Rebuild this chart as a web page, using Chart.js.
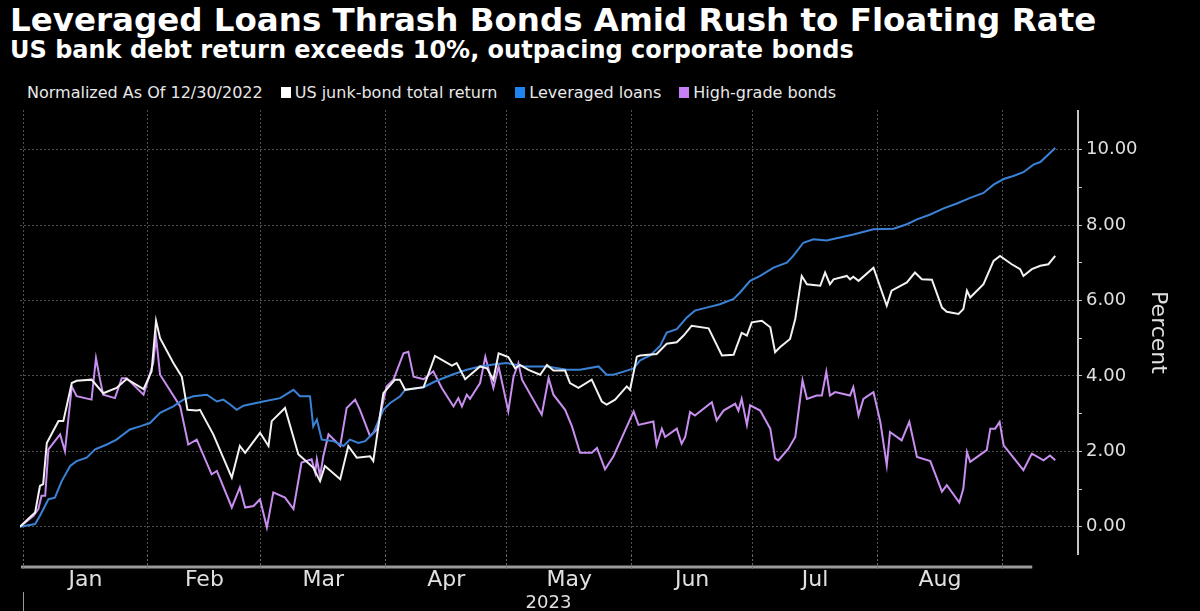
<!DOCTYPE html>
<html>
<head>
<meta charset="utf-8">
<script src="https://cdn.jsdelivr.net/npm/chart.js@4.4.0/dist/chart.umd.min.js"></script>
<style>
  html, body { margin: 0; padding: 0; background: #000; }
  body { width: 1200px; height: 611px; position: relative; overflow: hidden; font-family: 'DejaVu Sans', sans-serif; color: #fff; }
  #title { position: absolute; left: 10px; top: 1px; font-size: 32.5px; font-weight: bold; white-space: nowrap; }
  #subtitle { position: absolute; left: 10px; top: 36px; font-size: 24px; font-weight: bold; white-space: nowrap; }
  #legend { position: absolute; left: 27px; top: 83px; font-size: 16px; color: #e8e8e8; white-space: nowrap; display: flex; align-items: center; }
  .item { display: inline-flex; align-items: center; margin-left: 18px; }
  .sw { display: inline-block; width: 10px; height: 11px; margin-right: 4px; }
  canvas { position: absolute; left: 0; top: 0; }
</style>
</head>
<body>
<div id="title">Leveraged Loans Thrash Bonds Amid Rush to Floating Rate</div>
<div id="subtitle">US bank debt return exceeds 10%, outpacing corporate bonds</div>
<div id="legend">
  <span>Normalized As Of 12/30/2022</span>
  <span class="item"><span class="sw" style="background:#ffffff"></span>US junk-bond total return</span>
  <span class="item"><span class="sw" style="background:#1f84f0"></span>Leveraged loans</span>
  <span class="item"><span class="sw" style="background:#c77ff5"></span>High-grade bonds</span>
</div>
<canvas id="chart" width="1200" height="611"></canvas>
<script>
// x values are days since Jan 1 2023, y values are percent return since 12/30/2022
const monthStarts = [0, 31, 59, 90, 120, 151, 181, 212, 243];
const monthMids = [15.5, 45, 74.5, 105, 135.5, 166, 196.5, 227.5];
const monthLabels = ['Jan', 'Feb', 'Mar', 'Apr', 'May', 'Jun', 'Jul', 'Aug'];
const yTicks = [0, 1, 2, 3, 4, 5, 6, 7, 8, 9, 10];

const junkDays = [
  -0.75, 3.0, 4.2, 5.0, 5.9, 8.8, 10.0, 12.1, 13.3, 17.0,
  19.9, 23.2, 25.7, 29.9, 31.9, 33.0, 34.0, 37.3, 39.4, 40.8,
  43.1, 43.9, 47.2, 51.8, 53.8, 55.1, 58.8, 60.9, 61.7, 65.0,
  68.3, 72.0, 73.7, 74.9, 78.7, 80.7, 82.8, 86.1, 86.9, 89.4,
  92.3, 93.5, 94.8, 99.4, 102.2, 106.4, 107.6, 109.7, 113.4, 115.1,
  116.7, 118.0, 120.4, 122.1, 123.3, 125.4, 128.3, 130.0, 131.6, 134.5,
  135.7, 137.8, 141.1, 143.6, 144.8, 146.9, 149.8, 150.6, 152.3, 153.1,
  157.2, 159.7, 162.2, 163.9, 165.9, 170.1, 173.4, 176.3, 178.3, 179.6,
  180.8, 183.3, 185.4, 186.6, 187.8, 190.3, 191.6, 193.2, 194.5, 197.8,
  199.0, 200.2, 201.1, 204.4, 205.2, 206.0, 207.3, 211.0, 214.3, 215.5,
  219.3, 221.3, 223.0, 225.5, 228.0, 229.2, 232.1, 233.3, 234.2, 235.0,
  238.3, 240.8, 242.4, 245.3, 247.4, 248.2, 250.3, 252.4, 254.4, 256.1
];
const junkValues = [
  0, 0.38, 1.08, 1.13, 2.22, 2.8, 2.8, 3.81, 3.87, 3.9,
  3.54, 3.68, 3.92, 3.65, 4.12, 5.46, 5.0, 4.34, 3.98, 3.1,
  3.08, 3.1, 2.45, 1.3, 2.14, 1.96, 2.49, 2.14, 2.8, 3.15,
  1.92, 1.57, 1.21, 1.61, 1.26, 2.14, 1.83, 1.87, 1.74, 3.54,
  3.9, 3.9, 3.63, 3.7, 4.53, 4.27, 4.34, 3.91, 4.25, 4.2,
  3.9, 4.6, 4.5, 4.2, 4.29, 4.16, 4.03, 4.29, 4.14, 4.14,
  3.81, 3.68, 3.9, 3.32, 3.24, 3.37, 3.72, 3.63, 4.51, 4.54,
  4.58, 4.85, 4.89, 5.07, 5.33, 5.26, 4.54, 4.56, 5.14, 5.07,
  5.42, 5.46, 5.29, 4.63, 4.76, 4.98, 5.51, 6.65, 6.43, 6.39,
  6.74, 6.43, 6.56, 6.65, 6.56, 6.63, 6.52, 6.87, 5.86, 6.26,
  6.48, 6.74, 6.56, 6.55, 5.81, 5.7, 5.64, 5.77, 6.26, 6.08,
  6.43, 7.05, 7.18, 6.96, 6.83, 6.65, 6.83, 6.92, 6.96, 7.18
];

const loanDays = [
  -0.75, 3.0, 4.2, 6.3, 7.9, 9.6, 11.7, 13.3, 15.8, 17.9,
  20.8, 23.2, 26.5, 29.0, 31.5, 34.0, 37.3, 39.8, 42.3, 45.6,
  48.1, 49.7, 51.4, 53.0, 54.7, 59.6, 63.8, 67.1, 68.7, 71.2,
  72.0, 72.9, 74.1, 77.0, 79.5, 81.1, 83.2, 84.9, 86.9, 89.4,
  91.1, 93.5, 94.8, 99.4, 102.2, 106.4, 110.1, 113.4, 116.7, 120.0,
  124.2, 130.0, 134.9, 138.2, 142.8, 144.8, 146.5, 149.8, 151.5, 153.1,
  155.6, 158.1, 159.7, 162.2, 164.7, 166.7, 169.6, 172.9, 176.3, 177.9,
  180.4, 182.9, 186.2, 189.5, 191.1, 193.6, 196.1, 199.4, 202.7, 206.0,
  211.0, 216.0, 219.3, 221.8, 225.1, 228.4, 231.7, 235.0, 238.3, 240.8,
  243.3, 245.7, 248.2, 250.7, 252.4, 256.1
];
const loanValues = [
  0, 0.07, 0.29, 0.73, 0.77, 1.21, 1.61, 1.74, 1.83, 2.05,
  2.18, 2.31, 2.58, 2.66, 2.75, 3.02, 3.19, 3.37, 3.46, 3.5,
  3.32, 3.37, 3.24, 3.1, 3.21, 3.32, 3.41, 3.63, 3.46, 3.46,
  2.66, 2.84, 2.31, 2.27, 2.14, 2.31, 2.22, 2.27, 2.49, 3.1,
  3.28, 3.45, 3.63, 3.7, 3.85, 4.03, 4.16, 4.25, 4.3, 4.34,
  4.25, 4.25, 4.16, 4.16, 4.25, 4.03, 4.03, 4.14, 4.2, 4.41,
  4.54, 4.8, 5.15, 5.24, 5.55, 5.73, 5.81, 5.9, 6.04, 6.21,
  6.52, 6.65, 6.87, 7.0, 7.18, 7.53, 7.62, 7.59, 7.67, 7.75,
  7.89, 7.9, 8.02, 8.15, 8.28, 8.44, 8.57, 8.72, 8.85, 9.07,
  9.22, 9.3, 9.4, 9.6, 9.67, 10.04
];

const gradeDays = [
  -0.75, 2.6, 3.8, 4.6, 5.5, 6.3, 9.2, 10.4, 12.1, 13.3,
  17.0, 18.1, 19.1, 19.9, 22.8, 24.5, 25.7, 29.9, 32.3, 33.0,
  34.0, 39.0, 41.0, 43.1, 46.8, 48.1, 51.8, 53.8, 55.1, 57.2,
  58.8, 60.5, 62.1, 65.0, 67.1, 69.1, 71.6, 72.5, 72.9, 73.7,
  74.5, 75.8, 78.7, 80.3, 82.4, 83.6, 86.1, 87.8, 90.2, 91.9,
  94.4, 95.6, 96.9, 99.4, 101.8, 103.9, 106.8, 108.0, 108.9, 110.1,
  110.9, 113.4, 114.7, 116.7, 118.0, 120.4, 121.7, 122.9, 123.8, 128.7,
  130.4, 131.6, 134.5, 136.2, 138.2, 141.1, 142.4, 144.4, 146.5, 151.5,
  152.7, 156.4, 157.2, 158.5, 159.3, 162.2, 163.4, 164.3, 165.5, 166.7,
  170.9, 172.1, 173.8, 176.7, 177.5, 178.3, 179.6, 180.4, 182.9, 185.4,
  186.6, 187.4, 189.9, 191.6, 193.4, 194.5, 196.9, 198.2, 199.3, 200.2,
  201.5, 205.2, 206.0, 207.3, 208.5, 211.0, 212.7, 214.3, 215.1, 218.0,
  219.9, 221.8, 225.1, 228.0, 229.2, 232.3, 233.3, 234.2, 235.0, 239.1,
  240.0, 241.2, 242.3, 243.3, 248.2, 250.3, 253.2, 254.8, 256.1
];
const gradeValues = [
  0, 0.29, 0.47, 0.82, 0.82, 2.05, 2.45, 2.0, 3.72, 3.46,
  3.37, 4.47, 3.9, 3.5, 3.41, 3.94, 3.94, 3.5, 4.34, 5.04,
  4.03, 3.19, 2.18, 2.31, 1.39, 1.48, 0.51, 1.04, 0.51, 0.55,
  0.73, -0.02, 0.91, 0.77, 0.47, 1.7, 1.79, 1.43, 1.79, 1.34,
  1.87, 2.45, 2.14, 3.15, 3.37, 3.1, 2.4, 2.58, 3.72, 3.9,
  4.6, 4.64, 3.98, 3.91, 4.12, 3.68, 3.19, 3.41, 3.19, 3.5,
  3.39, 3.81, 4.51, 3.68, 4.25, 3.06, 3.98, 4.34, 3.9, 2.97,
  3.94, 3.5, 3.1, 2.66, 1.96, 1.96, 2.09, 1.52, 1.87, 3.06,
  2.7, 2.79, 2.16, 2.6, 2.38, 2.6, 2.2, 2.38, 3.04, 2.95,
  3.3, 2.82, 3.08, 3.26, 3.08, 3.39, 2.7, 3.22, 3.08, 2.6,
  1.81, 1.76, 2.07, 2.38, 3.88, 3.39, 3.48, 3.48, 4.11, 3.48,
  3.57, 3.48, 3.7, 2.95, 3.39, 3.57, 2.78, 1.63, 2.51, 2.29,
  2.78, 1.85, 1.74, 0.93, 1.1, 0.64, 1.01, 1.98, 1.72, 2.03,
  2.6, 2.6, 2.78, 2.16, 1.5, 1.94, 1.76, 1.89, 1.76
];

function points(days, values) {
  return days.map((d, i) => ({ x: d, y: values[i] }));
}

const fontFamily = "'DejaVu Sans', sans-serif";
const textGray = '#e0e0e0';
const gridGray = '#505050';
const axisGray = '#c4c4c4';
const barEndDay = 250.4; // the grey date bar stops short of the last point

// grey date bar under the plot, the solid value axis line, and the year divider at Jan 1
const axisDecor = {
  id: 'axisDecor',
  beforeDraw(chart) {
    const { ctx, chartArea, scales } = chart;
    const y = chartArea.bottom + 12;
    ctx.save();
    ctx.strokeStyle = '#9a9a9a';
    ctx.lineWidth = 3;
    ctx.beginPath();
    ctx.moveTo(chartArea.left + 1, y);
    ctx.lineTo(scales.x.getPixelForValue(barEndDay), y);
    ctx.stroke();
    const x0 = Math.round(scales.x.getPixelForValue(monthStarts[0])) + 0.5;
    ctx.strokeStyle = '#9a9a9a';
    ctx.lineWidth = 1;
    ctx.beginPath();
    ctx.moveTo(x0, chartArea.bottom + 37);
    ctx.lineTo(x0, chart.height);
    ctx.stroke();
    ctx.restore();
  },
  afterDraw(chart) {
    const { ctx, chartArea } = chart;
    ctx.save();
    ctx.strokeStyle = axisGray;
    ctx.lineWidth = 2;
    ctx.beginPath();
    ctx.moveTo(chartArea.right + 1, chartArea.top);
    ctx.lineTo(chartArea.right + 1, chartArea.bottom);
    ctx.stroke();
    ctx.restore();
  }
};

const labelFor = {};
monthMids.forEach((m, i) => { labelFor[m] = monthLabels[i]; });

new Chart(document.getElementById('chart'), {
  type: 'line',
  data: {
    datasets: [
      { label: 'US junk-bond total return', data: points(junkDays, junkValues), borderColor: '#f2f2f2', borderWidth: 2 },
      { label: 'Leveraged loans', data: points(loanDays, loanValues), borderColor: '#3b82d6', borderWidth: 2 },
      { label: 'High-grade bonds', data: points(gradeDays, gradeValues), borderColor: '#c88ef0', borderWidth: 2 }
    ]
  },
  options: {
    responsive: false,
    animation: false,
    layout: { padding: { left: 20, top: 110, right: 0, bottom: 0 } },
    elements: { point: { radius: 0 }, line: { tension: 0 } },
    plugins: { legend: { display: false }, tooltip: { enabled: false } },
    scales: {
      x: {
        type: 'linear',
        min: -0.75,
        max: 261.5,
        afterBuildTicks: (scale) => {
          scale.ticks = monthStarts.concat(monthMids).sort((a, b) => a - b).map(v => ({ value: v }));
        },
        afterFit: (scale) => { scale.height = 56; },
        ticks: {
          autoSkip: false,
          maxRotation: 0,
          padding: -2,
          color: textGray,
          font: { family: fontFamily, size: 22, lineHeight: 1 },
          callback: (v) => labelFor[v] || ''
        },
        grid: {
          color: (c) => (c.tick && monthStarts.includes(c.tick.value)) ? gridGray : 'transparent',
          tickColor: (c) => (c.tick && monthStarts.includes(c.tick.value)) ? '#6a6a6a' : 'transparent',
          tickBorderDash: [2, 2],
          tickLength: 16,
          lineWidth: 1
        },
        border: { display: false, dash: [2, 2] },
        title: { display: true, text: '2023', color: textGray, font: { family: fontFamily, size: 18 }, padding: { top: 0, bottom: -3 } }
      },
      y: {
        position: 'right',
        min: -0.75,
        max: 11.05,
        afterBuildTicks: (scale) => { scale.ticks = yTicks.map(v => ({ value: v })); },
        afterFit: (scale) => { scale.width = 123; },
        ticks: {
          padding: 4,
          color: textGray,
          font: { family: fontFamily, size: 18 },
          callback: (v) => (v % 2 === 0 ? v.toFixed(2) : '')
        },
        grid: {
          color: (c) => (c.tick && c.tick.value % 2 === 0) ? gridGray : 'transparent',
          tickColor: axisGray,
          tickLength: 5,
          lineWidth: 1
        },
        border: { display: false, dash: [2, 2] },
        title: { display: true, text: 'Percent', color: textGray, font: { family: fontFamily, size: 22 }, padding: { top: 29, bottom: 0 } }
      }
    }
  },
  plugins: [axisDecor]
});
</script>
</body>
</html>
